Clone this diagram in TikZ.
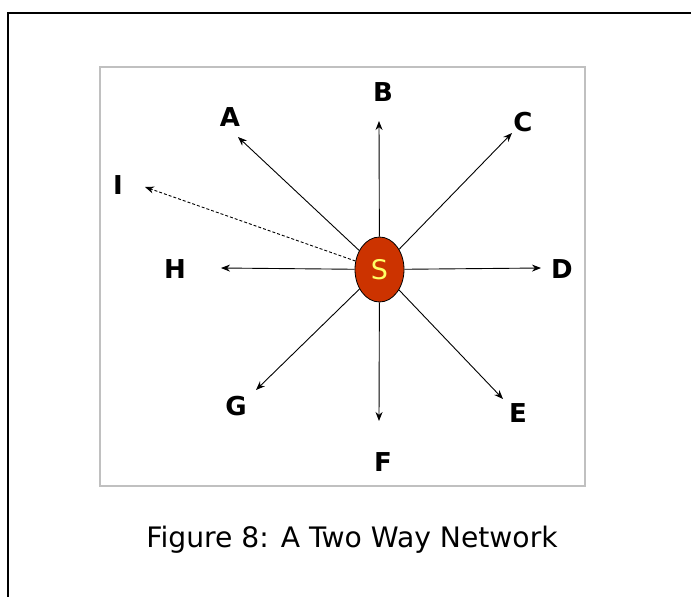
\documentclass[tikz,border=0pt]{standalone}
\usepackage{fontspec}
\setmainfont{DejaVu Sans}
\usetikzlibrary{arrows.meta,shapes.geometric}
\definecolor{sfill}{HTML}{CC3300}
\definecolor{slabel}{HTML}{FFFF66}
\definecolor{boxgray}{HTML}{C0C0C0}
\tikzset{
  lbl/.style={font=\fontsize{26}{30}\selectfont\bfseries, inner sep=0pt},
  ray/.style={line width=0.9pt, -{Stealth[length=9pt,width=7pt]}},
  dray/.style={ray, dash pattern=on 3pt off 2pt},
}
\begin{document}
\begin{tikzpicture}[x=1pt,y=-1pt]
\useasboundingbox (0,0) rectangle (691,597);
% outer frame (cut off at right and bottom)
\draw[line width=1.6pt] (8,597) -- (8,13) -- (691,13);
% inner box
\draw[boxgray, line width=1.6pt] (100,67) rectangle (585,486);
% centre node
\node (S) [ellipse, draw=black, line width=0.8pt, fill=sfill, minimum width=49pt, minimum height=65pt, inner sep=0pt,
  font=\fontsize{27}{30}\selectfont, text=slabel] at (379.5,269.5) {S};
% arrow ends
\coordinate (a) at (238,137);
\coordinate (b) at (379,121);
\coordinate (c) at (512,133);
\coordinate (d) at (541,268);
\coordinate (e) at (503,399);
\coordinate (f) at (379,421);
\coordinate (g) at (256,390);
\coordinate (h) at (221,268);
\coordinate (i) at (145,187);
% labels
\node[lbl] (A) at (230,117) {A};
\node[lbl] (B) at (383,92) {B};
\node[lbl] (C) at (523,122) {C};
\node[lbl] (D) at (562,269) {D};
\node[lbl] (E) at (518,413) {E};
\node[lbl] (F) at (383,462) {F};
\node[lbl] (G) at (236,406) {G};
\node[lbl] (H) at (175,269) {H};
\node[lbl] (I) at (118,185) {I};
% rays
\foreach \t in {a,b,c,d,e,f,g,h}{\draw[ray] (S) -- (\t);}
\draw[dray] (S) -- (i);
% caption
\node (cap) [font=\fontsize{28.2}{32}\selectfont, inner sep=0pt] at (352,540) {Figure 8: A Two Way Network};
\end{tikzpicture}
\end{document}
